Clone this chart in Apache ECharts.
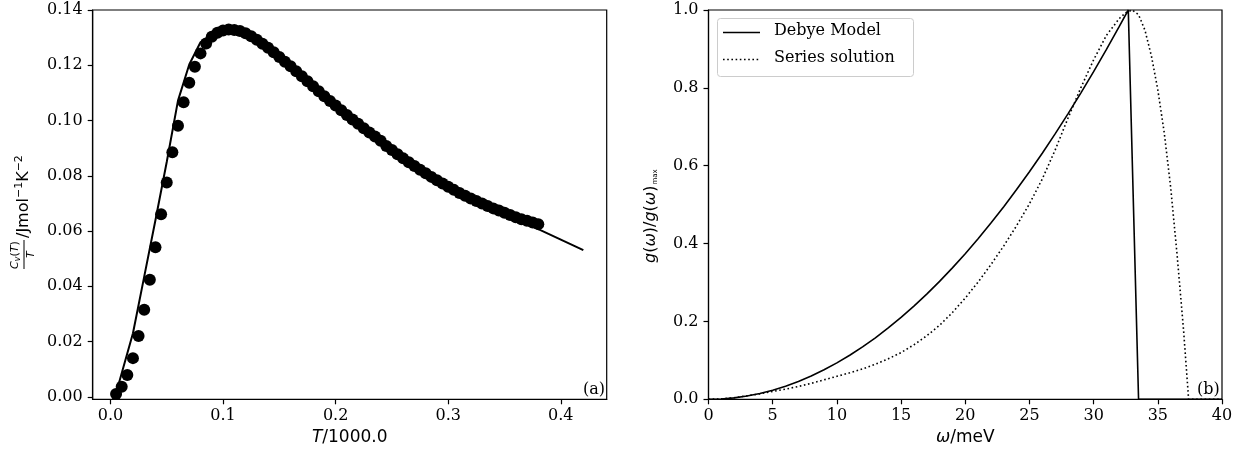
<!DOCTYPE html>
<html>
<head>
<meta charset="utf-8">
<script src="https://cdn.jsdelivr.net/npm/echarts@6/dist/echarts.min.js"></script>
<style>
html,body{margin:0;padding:0;background:#fff;}
#chart{width:1259px;height:456px;}
</style>
</head>
<body>
<div id="chart"></div>
<script>
// ---- Panel (a): heat capacity ----
const measT = [0.005,0.010,0.015,0.020,0.025,0.030,0.035,0.040,0.045,0.050,0.055,0.060,0.065,0.070,0.075,0.080,0.085,0.090,0.095,0.100,
  0.105,0.110,0.115,0.120,0.125,0.130,0.135,0.140,0.145,0.150,0.155,0.160,0.165,0.170,0.175,0.180,0.185,0.190,0.195,0.200,
  0.205,0.210,0.215,0.220,0.225,0.230,0.235,0.240,0.245,0.250,0.255,0.260,0.265,0.270,0.275,0.280,0.285,0.290,0.295,0.300,
  0.305,0.310,0.315,0.320,0.325,0.330,0.335,0.340,0.345,0.350,0.355,0.360,0.365,0.370,0.375,0.380];
const measCvT = [0.0010,0.0036,0.0079,0.0140,0.0220,0.0315,0.0424,0.0541,0.0661,0.0776,0.0885,0.0981,0.1066,0.1137,0.1195,0.1243,0.1279,0.1303,0.1318,0.1326,
  0.1329,0.1328,0.1324,0.1316,0.1305,0.1292,0.1278,0.1263,0.1247,0.1230,0.1213,0.1196,0.1178,0.1160,0.1142,0.1124,0.1106,0.1088,0.1071,0.1054,
  0.1037,0.1020,0.1004,0.0988,0.0972,0.0957,0.0942,0.0927,0.0908,0.0893,0.0878,0.0863,0.0849,0.0835,0.0822,0.0809,0.0796,0.0784,0.0772,0.0760,
  0.0749,0.0738,0.0728,0.0718,0.0709,0.0700,0.0691,0.0682,0.0674,0.0666,0.0658,0.0650,0.0643,0.0637,0.0631,0.0625];
const modelT = [0.005,0.020,0.030,0.040,0.050,0.060,0.070,0.080,0.090,0.100,0.110,0.120,0.150,0.200,0.250,0.300,0.350,0.380,0.400,0.420];
const modelCvT = [0.0013,0.0230,0.0435,0.0640,0.0850,0.1072,0.1203,0.1283,0.1312,0.1327,0.1330,0.1318,0.1230,0.1052,0.0890,0.0757,0.0658,0.0607,0.0569,0.0531];
const aTicksX = [0.0,0.1,0.2,0.3,0.4];
const aTicksY = [0.00,0.02,0.04,0.06,0.08,0.10,0.12,0.14];

// ---- Panel (b): density of states ----
const debyeW = [0,1,2,3,4,5,6,7,8,9,10,11,12,13,14,15,16,17,18,19,20,21,22,23,24,25,26,27,28,29,30,31,32,32.7,33.5,40];
const debyeG = [0,0.0009,0.0037,0.0084,0.015,0.0234,0.0337,0.0458,0.0599,0.0758,0.0935,0.1132,0.1347,0.158,0.1833,0.2104,0.2394,0.2703,0.303,0.3376,
  0.3741,0.4124,0.4526,0.4947,0.5387,0.5845,0.6322,0.6818,0.7332,0.7865,0.8417,0.8987,0.9577,1.0,0,0];
const seriesW = [0,1,2,3,4,5,6,7,8,9,10,11,12,13,14,15,16,17,18,19,20,21,22,23,24,25,26,27,28,29,30,31,32,32.5,33,33.5,34,34.5,35,35.5,36,36.5,37,37.4,40];
const seriesG = [0,0.001,0.004,0.009,0.014,0.020,0.026,0.033,0.041,0.050,0.059,0.068,0.078,0.090,0.104,0.120,0.140,0.163,0.190,0.223,
  0.260,0.301,0.346,0.394,0.446,0.502,0.566,0.640,0.722,0.800,0.872,0.935,0.978,0.993,1.0,0.988,0.948,0.882,0.795,0.685,0.545,0.372,0.18,0,0];
const bTicksY = [0.0,0.2,0.4,0.6,0.8,1.0];
const legendNames = ['Debye Model','Series solution'];

const zip = (a,b) => a.map((v,i)=>[v,b[i]]);

const chart = echarts.init(document.getElementById('chart'), null, {renderer:'canvas'});
const serif = 'DejaVu Serif';
const sans = 'DejaVu Sans';
const G = [
  {left:92.7, top:10, width:514, height:389.3},
  {left:708.5, top:10, width:513.5, height:389.3}
];
const tickLbl = {color:'#000', fontFamily:serif, fontSize:16, margin:9};
function xAx(idx, o){
  return Object.assign({
    type:'value', gridIndex:idx, position:'bottom',
    axisLine:{show:true, onZero:false, lineStyle:{color:'#000', width:1.2}},
    axisTick:{show:true, inside:false, length:5, lineStyle:{color:'#000', width:1.2}},
    splitLine:{show:false},
    axisLabel:Object.assign({}, tickLbl)
  }, o);
}
function yAx(idx, o){
  return Object.assign({
    type:'value', gridIndex:idx, position:'left',
    axisLine:{show:true, onZero:false, lineStyle:{color:'#000', width:1.2}},
    axisTick:{show:true, inside:false, length:5, lineStyle:{color:'#000', width:1.2}},
    splitLine:{show:false},
    axisLabel:Object.assign({}, tickLbl, {margin:10})
  }, o);
}

const option = {
  animation:false,
  backgroundColor:'#fff',
  grid: G.map(g=>Object.assign({show:true, borderColor:'#000', borderWidth:1.2, backgroundColor:'transparent', containLabel:false}, g)),
  xAxis: [
    xAx(0, {min:-0.01575, max:0.44075,
      axisLabel:Object.assign({}, tickLbl, {customValues:aTicksX, formatter:v=>v.toFixed(1)}),
      axisTick:{show:true, inside:false, length:5, customValues:aTicksX, lineStyle:{color:'#000', width:1.2}},
      name:'{i|T}{n|/1000.0}', nameLocation:'middle', nameGap:29,
      nameTextStyle:{rich:{i:{fontFamily:sans, fontStyle:'italic', fontSize:17, color:'#000'}, n:{fontFamily:sans, fontSize:17, color:'#000'}}}
    }),
    xAx(1, {min:0, max:40, interval:5,
      axisLabel:Object.assign({}, tickLbl, {formatter:v=>String(v)}),
      name:'{i|ω}{n|/meV}', nameLocation:'middle', nameGap:29,
      nameTextStyle:{rich:{i:{fontFamily:sans, fontStyle:'italic', fontSize:17, color:'#000'}, n:{fontFamily:sans, fontSize:17, color:'#000'}}}
    })
  ],
  yAxis: [
    yAx(0, {min:-0.0009, max:0.14,
      axisLabel:Object.assign({}, tickLbl, {margin:10, customValues:aTicksY, formatter:v=>v.toFixed(2)}),
      axisTick:{show:true, inside:false, length:5, customValues:aTicksY, lineStyle:{color:'#000', width:1.2}}
    }),
    yAx(1, {min:0, max:1, interval:0.2,
      axisLabel:Object.assign({}, tickLbl, {margin:10, formatter:v=>v.toFixed(1)})
    })
  ],
  series: [
    {type:'line', xAxisIndex:0, yAxisIndex:0, data:zip(modelT, modelCvT), showSymbol:false, symbol:'none',
      lineStyle:{color:'#000', width:2}, z:3},
    {type:'scatter', xAxisIndex:0, yAxisIndex:0, data:zip(measT, measCvT), symbol:'circle', symbolSize:12,
      itemStyle:{color:'#000', opacity:1}, z:4},
    {type:'line', name:legendNames[0], xAxisIndex:1, yAxisIndex:1, data:zip(debyeW, debyeG), showSymbol:false, symbol:'none',
      lineStyle:{color:'#000', width:1.6}},
    {type:'line', name:legendNames[1], xAxisIndex:1, yAxisIndex:1, data:zip(seriesW, seriesG), showSymbol:false, symbol:'none',
      lineStyle:{color:'#000', width:1.6, type:[1.6,2.6], cap:'butt'}}
  ],
  graphic: [
    {type:'text', right:1259-605, top:382, style:{text:'(a)', font:'16px "DejaVu Serif"', fill:'#000'}},
    {type:'text', left:1197, top:382, style:{text:'(b)', font:'16px "DejaVu Serif"', fill:'#000'}},
    {type:'rect', shape:{x:717.5, y:18.5, width:196, height:58, r:3}, style:{fill:'rgba(255,255,255,0.8)', stroke:'#ccc', lineWidth:1}, z:10},
    {type:'line', shape:{x1:723, y1:32.5, x2:760, y2:32.5}, style:{stroke:'#000', lineWidth:1.6}, z:11},
    {type:'line', shape:{x1:723, y1:59.5, x2:760, y2:59.5}, style:{stroke:'#000', lineWidth:1.6, lineDash:[1.6,2.6]}, z:11},
    {type:'text', left:774, top:23, style:{text:legendNames[0], font:'16px "DejaVu Serif"', fill:'#000'}, z:11},
    {type:'text', left:774, top:50, style:{text:legendNames[1], font:'16px "DejaVu Serif"', fill:'#000'}, z:11},
    {type:'group', x:24, y:203, rotation:Math.PI/2, children:[
      {type:'text', x:-66, y:-15, style:{text:'{c|C}{s|v}{p|(}{t|T}{p|)}', fill:'#000',
        rich:{c:{fontFamily:sans, fontStyle:'italic', fontSize:11, fill:'#000'},
              s:{fontFamily:sans, fontStyle:'italic', fontSize:8, fill:'#000', padding:[5,0,0,0]},
              p:{fontFamily:sans, fontSize:11, fill:'#000'},
              t:{fontFamily:sans, fontStyle:'italic', fontSize:11, fill:'#000'}}}},
      {type:'line', shape:{x1:-66, y1:0, x2:-37, y2:0}, style:{stroke:'#000', lineWidth:1}},
      {type:'text', x:-55, y:2, style:{text:'T', font:'italic 11px "DejaVu Sans"', fill:'#000'}},
      {type:'text', x:-35, y:-10, style:{text:'{n|/Jmol}{u|−1}{n|K}{u|−2}', fill:'#000',
        rich:{n:{fontFamily:sans, fontSize:16, fill:'#000'},
              u:{fontFamily:sans, fontSize:11, fill:'#000', padding:[0,0,8,0]}}}}
    ]},
    {type:'group', x:652, y:213, rotation:Math.PI/2, children:[
      {type:'text', x:-50, y:-10, style:{text:'{i|g}{n|(}{i|ω}{n|)/}{i|g}{n|(}{i|ω}{n|)}{s|max}', fill:'#000',
        rich:{i:{fontFamily:sans, fontStyle:'italic', fontSize:16, fill:'#000'},
              n:{fontFamily:sans, fontSize:16, fill:'#000'},
              s:{fontFamily:sans, fontSize:7, fill:'#000', padding:[10,0,0,1]}}}}
    ]}
  ]
};
chart.setOption(option);
</script>
</body>
</html>
